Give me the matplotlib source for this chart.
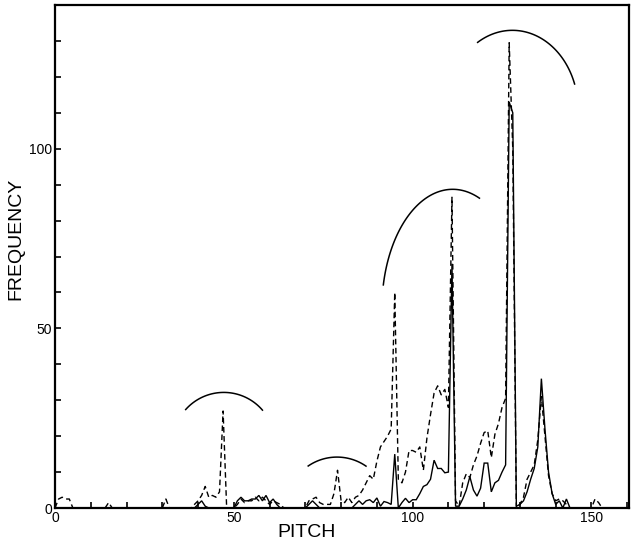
import matplotlib
matplotlib.use("Agg")
import matplotlib.pyplot as plt
import numpy as np
from matplotlib.ticker import MultipleLocator

# pitch histogram, one value per integer pitch 0..160
pitch = list(range(161))

freq_dashed = [
    0, 2.5, 3, 2.5, 2.5, 0, 0, 0, 0, 0,
    0, 0, 0, 0, 0, 1.5, 0, 0, 0, 0,
    0, 0, 0, 0, 0, 0, 0, 0, 0, 0,
    0, 2.5, 0, 0, 0, 0, 0, 0, 0, 1,
    2, 3.5, 6, 3, 3.5, 3, 4.5, 27, 0, 0,
    0, 1, 2.5, 1.5, 2, 2, 3, 2, 3, 2,
    1, 2, 1.5, 1, 0, 0, 0, 0, 0, 0,
    0, 2, 2.5, 3, 1.5, 1, 1, 1, 4, 10.5,
    2, 1.5, 3, 1.5, 3, 3.5, 5, 7, 9, 8,
    13, 17, 18.5, 20, 22, 60, 8, 7, 10, 16,
    16, 15.5, 17, 10.5, 19.5, 26, 32, 34, 31.5, 33,
    28, 86.5, 2, 0.5, 7, 9.5, 8.5, 12, 14.5, 18,
    21, 21.5, 14, 20.5, 23.5, 28, 30.5, 129.5, 100, 0,
    1, 3, 8, 10, 12, 19, 31, 20, 9, 4,
    2, 2.5, 2, 1, 0, 0, 0, 0, 0, 0,
    0, 2.5, 1.5, 0, 0, 0, 0, 0, 0, 0,
    0,
]

freq_solid = [
    0, 0, 0, 0, 0, 0, 0, 0, 0, 0,
    0, 0, 0, 0, 0, 0, 0, 0, 0, 0,
    0, 0, 0, 0, 0, 0, 0, 0, 0, 0,
    0, 0, 0, 0, 0, 0, 0, 0, 0, 0,
    1, 2, 0.5, 0, 0, 0, 0, 0, 0, 0,
    0, 2, 3, 2, 2, 2.5, 2.5, 3.5, 2, 3.5,
    1.5, 2.5, 1, 0, 0, 0, 0, 0, 0, 0,
    0, 1, 2, 1, 0, 0, 0, 0, 0, 0,
    0, 0, 0, 0, 1, 2, 1, 2, 2.3, 1.5,
    2.8, 0.5, 1.8, 1.5, 1, 15, 0, 1.5, 2.7, 1.5,
    2.3, 2.3, 4, 6, 6.5, 8, 13.3, 11, 11, 9.8,
    10, 68, 0.5, 0.5, 2.5, 5, 8.7, 5, 3.3, 5.5,
    12.5, 12.5, 4.5, 7, 7.7, 10, 12, 113, 110, 0.5,
    1, 2, 4.5, 8, 11, 17, 36, 22, 10, 4,
    1, 2, 0, 2.5, 0, 0, 0, 0, 0, 0,
    0, 0, 0, 0, 0, 0, 0, 0, 0, 0,
    0,
]

# hand-drawn arcs over the peaks (elliptical segments, data units)
arc_center_x = [47.2, 78.85, 111.2, 127.9]
arc_center_y = [18.0, 0.0, 55.4, 110.75]
arc_radius_x = [14.25, 14.25, 19.8, 18.4]
arc_radius_y = [14.17, 14.17, 33.3, 22.2]
arc_start_deg = [40.7, 55.3, 67.8, 19.1]
arc_end_deg = [138.4, 124.4, 168.4, 121.9]

plt.rcParams["font.family"] = ["Liberation Sans", "DejaVu Sans"]

fig = plt.figure(figsize=(6.34, 5.44), dpi=100)
ax = fig.add_axes([55 / 634, 1 - 508 / 544, 574 / 634, 503 / 544])

ax.plot(pitch, freq_solid, color="black", linewidth=1.0, solid_joinstyle="miter")
ax.plot(pitch, freq_dashed, color="black", linewidth=1.0, dashes=(4, 2.5))

for cx, cy, rx, ry, t1, t2 in zip(arc_center_x, arc_center_y, arc_radius_x,
                                  arc_radius_y, arc_start_deg, arc_end_deg):
    t = np.radians(np.linspace(t1, t2, 100))
    ax.plot(cx + rx * np.cos(t), cy + ry * np.sin(t), color="black", linewidth=1.1)

ax.set_xlim(0, 160.5)
ax.set_ylim(0, 140)

ax.xaxis.set_major_locator(MultipleLocator(50))
ax.xaxis.set_minor_locator(MultipleLocator(10))
ax.yaxis.set_major_locator(MultipleLocator(50))
ax.yaxis.set_minor_locator(MultipleLocator(10))
ax.tick_params(which="both", direction="in", length=4, width=1.2,
               labelsize=10, pad=2)

for spine in ax.spines.values():
    spine.set_linewidth(1.6)

ax.set_xlabel("PITCH", fontsize=14, va="center")
ax.xaxis.set_label_coords(0.439, -0.048)
ax.set_ylabel("FREQUENCY", fontsize=14, va="center")
ax.yaxis.set_label_coords(-0.068, 0.535)

fig.savefig("out.png", dpi=100)
plt.close(fig)
